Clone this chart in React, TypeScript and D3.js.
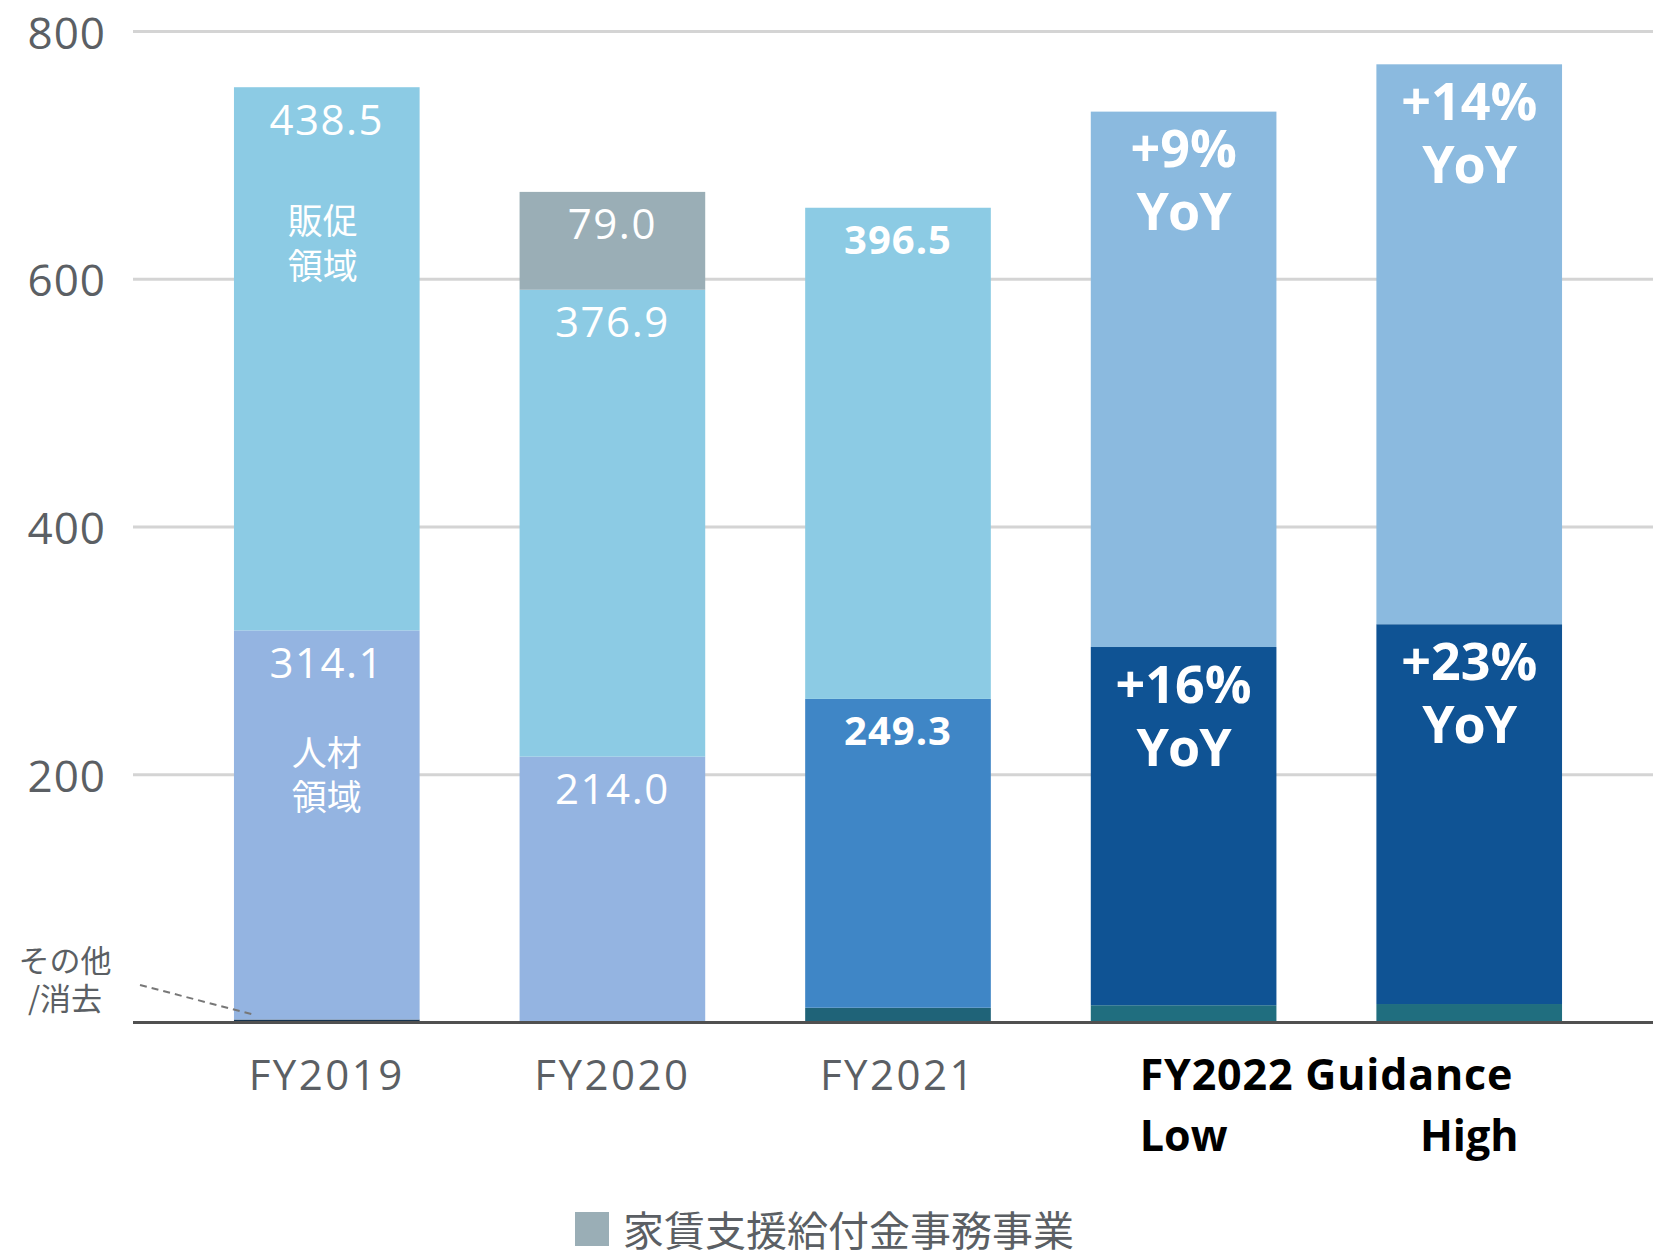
import React from "react";
import * as d3 from "d3";

const categories = ["FY2019", "FY2020", "FY2021", "FY2022 Low", "FY2022 High"];
const otherValues = [2.5, 0.7, 12, 14, 15];
const hrValues = [314.1, 214.0, 249.3, 289.2, 306.6];
const mktValues = [438.5, 376.9, 396.5, 432.2, 452.0];
const rentValues = [0, 79.0, 0, 0, 0];
const yTicks = [200, 400, 600, 800];
const hrLabels = ["314.1", "214.0", "249.3", "+16%|YoY", "+23%|YoY"];
const mktLabels = ["438.5", "376.9", "396.5", "+9%|YoY", "+14%|YoY"];
const rentLabels = ["", "79.0", "", "", ""];
const xLabels = ["FY2019", "FY2020", "FY2021", "Low", "High"];
const labelStyles = ["light", "light", "bold", "yoy", "yoy"];
const otherColors = ["#17344f", "#1d3f5c", "#1f6378", "#206e7f", "#206e7f"];
const hrColors = ["#94b4e1", "#94b4e1", "#3f86c6", "#0f5394", "#0f5394"];
const mktColors = ["#8ccbe4", "#8ccbe4", "#8ccbe4", "#8bbadf", "#8bbadf"];
const rentColor = "#9aaeb6";
const legendLabel = "家賃支援給付金事務事業";
const guidanceLabel = "FY2022 Guidance";
const otherNote = ["その他", "/消去"];
const mktName = ["販促", "領域"];
const hrName = ["人材", "領域"];

const W = 1653;
const H = 1251;
const LATIN = "'Open Sans', 'Noto Sans', sans-serif";
const CJK = "'Noto Sans CJK JP', 'Noto Sans', sans-serif";

export default function App() {
  const x = d3.scaleBand<string>().domain(categories).range([134, 1662]).paddingInner(0.35).paddingOuter(0.35);
  const y = d3.scaleLinear().domain([0, 800]).range([1022.6, 31.6]);
  const bw = x.bandwidth();

  const stacks = categories.map((c, i) => {
    const o0 = 0, o1 = otherValues[i];
    const h1 = o1 + hrValues[i];
    const m1 = h1 + mktValues[i];
    const r1 = m1 + rentValues[i];
    return { c, i, o0, o1, h1, m1, r1 };
  });

  const renderLabel = (text: string, style: string, cx: number, top: number, key: string) => {
    if (!text) return null;
    if (style === "yoy") {
      const [a, b] = text.split("|");
      return (
        <g key={key} fill="#fff" fontFamily={LATIN} fontWeight={700} fontSize={52} textAnchor="middle">
          <text x={cx} y={top + 35} dominantBaseline="central">{a}</text>
          <text x={cx} y={top + 98} dominantBaseline="central" letterSpacing={-1}>{b}</text>
        </g>
      );
    }
    return (
      <text key={key} x={cx} y={top + 31} dominantBaseline="central" textAnchor="middle" fill="#fff"
        fontFamily={LATIN} fontWeight={style === "bold" ? 700 : 400} fontSize={style === "bold" ? 40 : 42}
        letterSpacing={style === "bold" ? 1 : 1.5}>
        {text}
      </text>
    );
  };

  return (
    <svg width={W} height={H} style={{ position: "absolute", left: 0, top: 0, background: "#fff" }}>
      {yTicks.map((t) => (
        <line key={"g" + t} x1={133} x2={W} y1={y(t)} y2={y(t)} stroke="#d4d4d4" strokeWidth={3} />
      ))}
      {yTicks.map((t) => (
        <text key={"t" + t} x={106} y={y(t)} textAnchor="end" dominantBaseline="central" fill="#5b5f64"
          fontFamily={LATIN} fontSize={44} letterSpacing={1}>
          {t}
        </text>
      ))}
      {stacks.map((s) => {
        const x0 = x(s.c) as number;
        return (
          <g key={"b" + s.c}>
            <rect x={x0} width={bw} y={y(s.o1)} height={y(s.o0) - y(s.o1)} fill={otherColors[s.i]} />
            <rect x={x0} width={bw} y={y(s.h1)} height={y(s.o1) - y(s.h1)} fill={hrColors[s.i]} />
            <rect x={x0} width={bw} y={y(s.m1)} height={y(s.h1) - y(s.m1)} fill={mktColors[s.i]} />
            {rentValues[s.i] > 0 && (
              <rect x={x0} width={bw} y={y(s.r1)} height={y(s.m1) - y(s.r1)} fill={rentColor} />
            )}
          </g>
        );
      })}
      {stacks.map((s) => {
        const cx = (x(s.c) as number) + bw / 2;
        const st = labelStyles[s.i];
        return (
          <g key={"l" + s.c}>
            {renderLabel(hrLabels[s.i], st, cx, y(s.h1), "h")}
            {renderLabel(mktLabels[s.i], st, cx, y(s.m1), "m")}
            {renderLabel(rentLabels[s.i], st, cx, y(s.r1), "r")}
          </g>
        );
      })}
      {(() => {
        const s = stacks[0];
        const cx = (x(s.c) as number) + bw / 2;
        return (
          <g fill="#fff" fontFamily={CJK} fontSize={35} textAnchor="middle">
            {mktName.map((t, k) => (
              <text key={"mn" + k} x={cx - 4} y={y(s.m1) + 131 + k * 45} dominantBaseline="central">{t}</text>
            ))}
            {hrName.map((t, k) => (
              <text key={"hn" + k} x={cx} y={y(s.h1) + 120 + k * 44} dominantBaseline="central">{t}</text>
            ))}
          </g>
        );
      })()}
      <line x1={133} x2={W} y1={y(0)} y2={y(0)} stroke="#505050" strokeWidth={3} />
      <g fill="#5b5f64" fontFamily={CJK} fontSize={31} textAnchor="middle">
        {otherNote.map((t, k) => (
          <text key={"on" + k} x={65} y={958 + k * 38} dominantBaseline="central">{t}</text>
        ))}
      </g>
      <line x1={140} y1={985} x2={255} y2={1015} stroke="#777" strokeWidth={2} strokeDasharray="7,5" />
      {stacks.slice(0, 3).map((s) => (
        <text key={"x" + s.c} x={(x(s.c) as number) + bw / 2} y={1073} textAnchor="middle" dominantBaseline="central"
          fill="#5b5f64" fontFamily={LATIN} fontSize={42} letterSpacing={2.5}>
          {xLabels[s.i]}
        </text>
      ))}
      {(() => {
        const cL = (x(categories[3]) as number) + bw / 2;
        const cH = (x(categories[4]) as number) + bw / 2;
        return (
          <g fill="#000" fontFamily={LATIN} fontWeight={700} fontSize={43} textAnchor="middle">
            <text x={(cL + cH) / 2} y={1073} dominantBaseline="central" letterSpacing={0.8}>{guidanceLabel}</text>
            <text x={cL} y={1134} dominantBaseline="central">{xLabels[3]}</text>
            <text x={cH} y={1134} dominantBaseline="central">{xLabels[4]}</text>
          </g>
        );
      })()}
      <rect x={575} y={1212} width={34} height={34} fill={rentColor} />
      <text x={623} y={1228} dominantBaseline="central" fill="#5b5f64" fontFamily={CJK} fontSize={41}>
        {legendLabel}
      </text>
    </svg>
  );
}
